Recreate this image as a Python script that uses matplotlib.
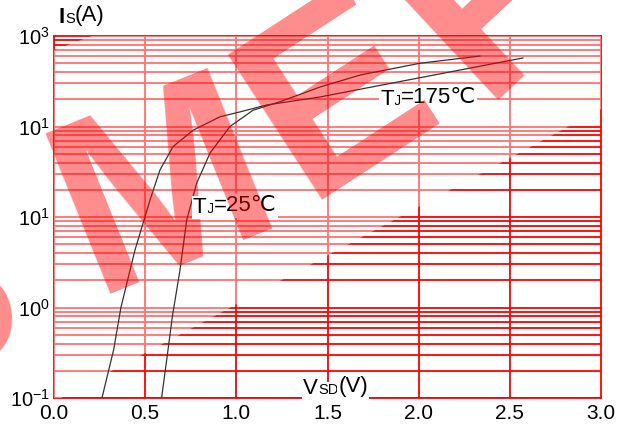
import matplotlib
matplotlib.use('Agg')
import matplotlib.pyplot as plt
from matplotlib.patches import Polygon
from matplotlib.ticker import NullLocator

plt.rcParams['font.family'] = ['Liberation Sans', 'DejaVu Sans']
plt.rcParams['mathtext.fontset'] = 'custom'
plt.rcParams['mathtext.rm'] = 'Liberation Sans'

###############################################
### Datos

v_175 = [0.263, 0.327, 0.367, 0.444, 0.527, 0.581, 0.653, 0.763, 0.91, 1.02, 1.167, 1.459, 2.007, 2.572]
i_175 = [0.1, 0.34, 1.0, 4.3, 15.5, 33, 60, 91, 128, 145, 173, 212, 346, 572]

v_25 = [0.590, 0.618, 0.649, 0.691, 0.728, 0.783, 0.856, 0.965, 1.091, 1.24, 1.459, 1.678, 2.007, 2.336]
i_25 = [0.1, 0.263, 0.79, 2.6, 9.3, 23.8, 51, 100, 151, 188, 273, 370, 500, 600]

xticks = [0.0, 0.5, 1.0, 1.5, 2.0, 2.5, 3.0]
xlabels = ['0.0', '0.5', '1.0', '1.5', '2.0', '2.5', '3.0']
yticks = [0.1, 1, 10, 100, 1000]
ylabels = [r'$\mathregular{10^{-1}}$', r'$\mathregular{10^{0}}$', r'$\mathregular{10^{1}}$',
           r'$\mathregular{10^{1}}$', r'$\mathregular{10^{3}}$']

###############################################
### Espacio de dibujo

W, H = 641, 429
def fx(px):
    return px / W
def fy(py):
    return 1 - py / H

fig = plt.figure(figsize=(W / 100, H / 100), dpi=100)
ax = fig.add_axes([fx(54), fy(398), 547 / W, 362 / H])
ax.set_yscale('log')
ax.set_xlim(0, 3)
ax.set_ylim(0.1, 1000)

red = '#ff0000'
for d in [0.1, 1, 10, 100]:
    for k in range(1, 10):
        ax.axhline(d * k, color=red, lw=1.3, zorder=1)
for v in xticks[1:-1]:
    ax.axvline(v, color=red, lw=1.3, zorder=1)
for s in ax.spines.values():
    s.set_color(red)
    s.set_linewidth(1.3)

ax.set_xticks(xticks)
ax.set_xticklabels(xlabels)
ax.set_yticks(yticks)
ax.set_yticklabels(ylabels)
ax.yaxis.set_minor_locator(NullLocator())
ax.tick_params(length=0, labelsize=15)
ax.tick_params(axis='x', pad=4)
ax.tick_params(axis='y', pad=3, labelsize=14.5)

# capa blanca semitransparente (zona clara de la marca de agua)
band = [(54, 50), (54, 402), (620, 99), (620, -160)]
ax.add_patch(Polygon([(fx(a), fy(b)) for a, b in band], closed=True, transform=fig.transFigure,
                     facecolor='white', edgecolor='none', alpha=0.45, zorder=2.6))

# marca de agua
for ch, cx, cy, rot in [('S', -63, 305, 5), ('M', 165, 195, 22), ('E', 340, 100, 33), ('F', 492, 0, 43)]:
    fig.text(fx(cx), fy(cy), ch, fontsize=180, fontweight='bold', color=red, alpha=0.45,
             rotation=rot, rotation_mode='anchor', ha='center', va='center', zorder=3)

###############################################
### Curvas

ax.plot(v_175, i_175, color='#333333', lw=0.9, zorder=4)
ax.plot(v_25, i_25, color='#333333', lw=0.9, zorder=4)

###############################################
### Notas

def label(x, y, parts, bg=True):
    box = dict(facecolor='white', edgecolor='none', pad=0.8) if bg else None
    s0, f0, w0 = parts[0]
    t = fig.text(fx(x), fy(y), s0, fontsize=f0, fontweight=w0, ha='left', va='baseline',
                 bbox=box, zorder=5)
    for s, f, w in parts[1:]:
        t = ax.annotate(s, xy=(1, 0), xycoords=t, xytext=(0, 0.21 * (f0 - f)),
                        textcoords='offset points', fontsize=f, fontweight=w,
                        ha='left', va='bottom', bbox=box, zorder=5)

label(59, 23, [('I', 16, 'bold'), ('S', 10.5, 'normal'), ('(A)', 16, 'normal')], bg=False)
label(380, 105, [('T', 16, 'normal'), ('J', 10.5, 'normal'), ('=175℃', 16, 'normal')])
label(193, 213, [('T', 16, 'normal'), ('J', 10.5, 'normal'), ('=25℃', 16, 'normal')])
label(303, 394, [('V', 16, 'normal'), ('SD', 10.5, 'normal'), ('(V)', 16, 'normal')])

###############################################
### Imprimir

fig.savefig('out.png', dpi=100)
